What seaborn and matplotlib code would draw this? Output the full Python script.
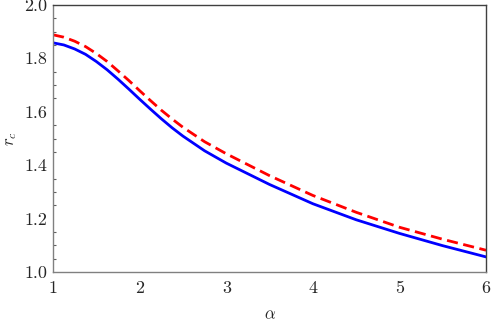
import numpy as np
import pandas as pd
import matplotlib
matplotlib.use("Agg")
import matplotlib.pyplot as plt
import seaborn as sns
from matplotlib.ticker import MultipleLocator

# values
alpha = [1.0, 1.125, 1.25, 1.375, 1.5, 1.625, 1.75, 1.875, 2.0, 2.125, 2.25, 2.375,
         2.5, 2.75, 3.0, 3.5, 4.0, 4.5, 5.0, 5.5, 6.0]
rc_solid = [1.858, 1.850, 1.835, 1.815, 1.788, 1.757, 1.722, 1.685, 1.647, 1.610,
            1.574, 1.540, 1.509, 1.454, 1.408, 1.328, 1.256, 1.196, 1.145, 1.099, 1.057]
rc_dashed = [1.888, 1.879, 1.864, 1.844, 1.818, 1.788, 1.753, 1.717, 1.679, 1.642,
             1.606, 1.573, 1.542, 1.488, 1.443, 1.361, 1.287, 1.224, 1.168, 1.123, 1.082]

sns.set_style("white")
plt.rcParams["font.family"] = "serif"
plt.rcParams["font.serif"] = ["cmr10", "DejaVu Serif"]
plt.rcParams["mathtext.fontset"] = "cm"
plt.rcParams["axes.formatter.use_mathtext"] = True

df = pd.DataFrame({"alpha": alpha, "solid": rc_solid, "dashed": rc_dashed})

fig = plt.figure(figsize=(4.91, 3.24), dpi=100)
ax = fig.add_axes([0.108, 0.160, 0.882, 0.825])

sns.lineplot(data=df, x="alpha", y="solid", ax=ax, color="#0000ff", lw=2)
sns.lineplot(data=df, x="alpha", y="dashed", ax=ax, color="#ff0000", lw=2,
             linestyle=(0, (4, 2)))

ax.set_xlim(1, 6)
ax.set_ylim(1.0, 2.0)
ax.xaxis.set_major_locator(MultipleLocator(1))
ax.yaxis.set_major_locator(MultipleLocator(0.2))
ax.yaxis.set_minor_locator(MultipleLocator(0.05))
ax.yaxis.set_major_formatter(plt.FuncFormatter(lambda v, p: f"{v:.1f}"))
ax.xaxis.set_major_formatter(plt.FuncFormatter(lambda v, p: f"{v:.0f}"))

ax.tick_params(axis="both", which="major", direction="in", length=4, width=0.8,
               color="#606060", labelsize=13)
ax.tick_params(axis="x", which="major", pad=6)
ax.tick_params(axis="y", which="major", pad=4)
ax.tick_params(axis="y", which="minor", direction="in", length=2.5, width=0.8,
               color="#606060", left=True)

for side in ["left", "bottom"]:
    ax.spines[side].set_color("#808080")
    ax.spines[side].set_linewidth(1.0)
for side in ["top", "right"]:
    ax.spines[side].set_color("#404040")
    ax.spines[side].set_linewidth(1.0)

ax.set_xlabel(r"$\alpha$", fontsize=12)
ax.set_ylabel(r"$r_c$", fontsize=12)
ax.xaxis.set_label_coords(0.5, -0.13)
ax.yaxis.set_label_coords(-0.078, 0.5)

fig.savefig("out.png", dpi=100)
